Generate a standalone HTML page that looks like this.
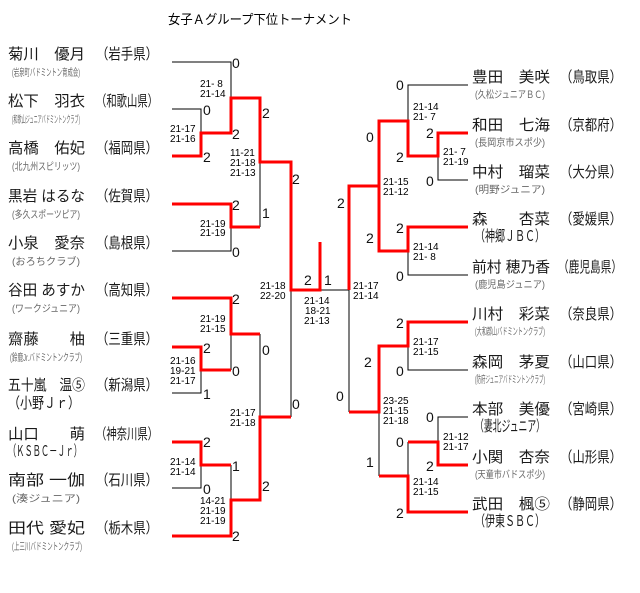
<!DOCTYPE html>
<html><head><meta charset="utf-8"><style>
html,body{margin:0;padding:0;background:#fff;}
svg{display:block;}
.n{font-family:"Liberation Sans","Noto Sans CJK JP",sans-serif;font-size:15px;fill:#1a1a1a;}
.a{font-family:"Liberation Sans","Noto Sans CJK JP",sans-serif;font-size:10px;fill:#666;}
.s{font-family:"Liberation Sans",sans-serif;font-size:10px;fill:#000;}
.d{font-family:"Liberation Sans",sans-serif;font-size:14px;fill:#111;}
.k{stroke:#000;stroke-width:1;fill:none;}
.r{stroke:#f00;stroke-width:3;fill:none;}
</style></head><body>
<svg width="640" height="593" viewBox="0 0 640 593" xmlns="http://www.w3.org/2000/svg">
<text x="168" y="24" class="n" style="font-size:13px;fill:#000" textLength="184" lengthAdjust="spacingAndGlyphs">女子Ａグループ下位トーナメント</text>

<g>
<text x="8" y="59" class="n" textLength="77" lengthAdjust="spacingAndGlyphs">菊川　優月</text><text x="96" y="59" class="n" textLength="62" lengthAdjust="spacingAndGlyphs">（岩手県）</text>
<text x="12" y="76" class="a" textLength="68" lengthAdjust="spacingAndGlyphs">(岩泉町バドミントン育成会)</text>
<text x="8" y="106" class="n" textLength="77" lengthAdjust="spacingAndGlyphs">松下　羽衣</text><text x="96" y="106" class="n" textLength="62" lengthAdjust="spacingAndGlyphs">（和歌山県）</text>
<text x="12" y="123" class="a" textLength="68" lengthAdjust="spacingAndGlyphs">(和歌山ジュニアバドミントンクラブ)</text>
<text x="8" y="153" class="n" textLength="77" lengthAdjust="spacingAndGlyphs">高橋　佑妃</text><text x="96" y="153" class="n" textLength="62" lengthAdjust="spacingAndGlyphs">（福岡県）</text>
<text x="12" y="170" class="a" textLength="68" lengthAdjust="spacingAndGlyphs">(北九州スピリッツ)</text>
<text x="8" y="201" class="n" textLength="77" lengthAdjust="spacingAndGlyphs">黒岩 はるな</text><text x="96" y="201" class="n" textLength="62" lengthAdjust="spacingAndGlyphs">（佐賀県）</text>
<text x="12" y="218" class="a" textLength="68" lengthAdjust="spacingAndGlyphs">(多久スポーツピア)</text>
<text x="8" y="248" class="n" textLength="77" lengthAdjust="spacingAndGlyphs">小泉　愛奈</text><text x="96" y="248" class="n" textLength="62" lengthAdjust="spacingAndGlyphs">（島根県）</text>
<text x="12" y="265" class="a" textLength="68" lengthAdjust="spacingAndGlyphs">(おろちクラブ)</text>
<text x="8" y="295" class="n" textLength="77" lengthAdjust="spacingAndGlyphs">谷田 あすか</text><text x="96" y="295" class="n" textLength="62" lengthAdjust="spacingAndGlyphs">（高知県）</text>
<text x="12" y="312" class="a" textLength="68" lengthAdjust="spacingAndGlyphs">(ワークジュニア)</text>
<text x="8" y="344" class="n" textLength="77" lengthAdjust="spacingAndGlyphs">齋藤　　柚</text><text x="96" y="344" class="n" textLength="62" lengthAdjust="spacingAndGlyphs">（三重県）</text>
<text x="10" y="361" class="a" textLength="72" lengthAdjust="spacingAndGlyphs">(鈴鹿Jr.バドミントンクラブ)</text>
<text x="8" y="390" class="n" textLength="77" lengthAdjust="spacingAndGlyphs">五十嵐　温⑤</text><text x="96" y="390" class="n" textLength="62" lengthAdjust="spacingAndGlyphs">（新潟県）</text>
<text x="8" y="408" class="n" textLength="72" lengthAdjust="spacingAndGlyphs">（小野Ｊｒ）</text>
<text x="8" y="439" class="n" textLength="77" lengthAdjust="spacingAndGlyphs">山口　　萌</text><text x="96" y="439" class="n" textLength="62" lengthAdjust="spacingAndGlyphs">（神奈川県）</text>
<text x="8" y="456" class="n" textLength="74" lengthAdjust="spacingAndGlyphs">（ＫＳＢＣ－Ｊｒ）</text>
<text x="8" y="485" class="n" textLength="77" lengthAdjust="spacingAndGlyphs">南部 一伽</text><text x="96" y="485" class="n" textLength="62" lengthAdjust="spacingAndGlyphs">（石川県）</text>
<text x="12" y="502" class="a" textLength="68" lengthAdjust="spacingAndGlyphs">(湊ジュニア)</text>
<text x="8" y="533" class="n" textLength="77" lengthAdjust="spacingAndGlyphs">田代 愛妃</text><text x="96" y="533" class="n" textLength="62" lengthAdjust="spacingAndGlyphs">（栃木県）</text>
<text x="12" y="550" class="a" textLength="70" lengthAdjust="spacingAndGlyphs">(上三川バドミントンクラブ)</text>
</g>

<g>
<text x="472" y="82" class="n" textLength="78" lengthAdjust="spacingAndGlyphs">豊田　美咲</text><text x="560" y="82" class="n" textLength="62" lengthAdjust="spacingAndGlyphs">（鳥取県）</text>
<text x="475" y="98" class="a" textLength="70" lengthAdjust="spacingAndGlyphs">(久松ジュニアＢＣ)</text>
<text x="472" y="130" class="n" textLength="78" lengthAdjust="spacingAndGlyphs">和田　七海</text><text x="560" y="130" class="n" textLength="62" lengthAdjust="spacingAndGlyphs">（京都府）</text>
<text x="475" y="146" class="a" textLength="70" lengthAdjust="spacingAndGlyphs">(長岡京市スポ少)</text>
<text x="472" y="177" class="n" textLength="78" lengthAdjust="spacingAndGlyphs">中村　瑠菜</text><text x="560" y="177" class="n" textLength="62" lengthAdjust="spacingAndGlyphs">（大分県）</text>
<text x="475" y="193" class="a" textLength="70" lengthAdjust="spacingAndGlyphs">(明野ジュニア)</text>
<text x="472" y="224" class="n" textLength="78" lengthAdjust="spacingAndGlyphs">森　　杏菜</text><text x="560" y="224" class="n" textLength="62" lengthAdjust="spacingAndGlyphs">（愛媛県）</text>
<text x="475" y="241" class="n" textLength="70" lengthAdjust="spacingAndGlyphs">（神郷ＪＢＣ）</text>
<text x="472" y="272" class="n" textLength="78" lengthAdjust="spacingAndGlyphs">前村 穂乃香</text><text x="558" y="272" class="n" textLength="64" lengthAdjust="spacingAndGlyphs">（鹿児島県）</text>
<text x="475" y="288" class="a" textLength="70" lengthAdjust="spacingAndGlyphs">(鹿児島ジュニア)</text>
<text x="472" y="319" class="n" textLength="78" lengthAdjust="spacingAndGlyphs">川村　彩菜</text><text x="560" y="319" class="n" textLength="62" lengthAdjust="spacingAndGlyphs">（奈良県）</text>
<text x="475" y="335" class="a" textLength="70" lengthAdjust="spacingAndGlyphs">(大和郡山バドミントンクラブ)</text>
<text x="472" y="367" class="n" textLength="78" lengthAdjust="spacingAndGlyphs">森岡　茅夏</text><text x="560" y="367" class="n" textLength="62" lengthAdjust="spacingAndGlyphs">（山口県）</text>
<text x="475" y="383" class="a" textLength="70" lengthAdjust="spacingAndGlyphs">(防府ジュニアバドミントンクラブ)</text>
<text x="472" y="414" class="n" textLength="78" lengthAdjust="spacingAndGlyphs">本部　美優</text><text x="560" y="414" class="n" textLength="62" lengthAdjust="spacingAndGlyphs">（宮崎県）</text>
<text x="475" y="431" class="n" textLength="70" lengthAdjust="spacingAndGlyphs">（妻北ジュニア）</text>
<text x="472" y="462" class="n" textLength="78" lengthAdjust="spacingAndGlyphs">小関　杏奈</text><text x="560" y="462" class="n" textLength="62" lengthAdjust="spacingAndGlyphs">（山形県）</text>
<text x="475" y="478" class="a" textLength="70" lengthAdjust="spacingAndGlyphs">(天童市バドスポ少)</text>
<text x="472" y="509" class="n" textLength="78" lengthAdjust="spacingAndGlyphs">武田　楓⑤</text><text x="560" y="509" class="n" textLength="62" lengthAdjust="spacingAndGlyphs">（静岡県）</text>
<text x="475" y="526" class="n" textLength="70" lengthAdjust="spacingAndGlyphs">（伊東ＳＢＣ）</text>
</g>

<path class="k" d="M172,62H231V98 M172,109H201V156 M201,133H231 M260,98V227 M231,204V251H172 M201,370V393H172 M231,334V370 M260,334V417 M201,465V488H172 M231,465V500 M291,289V417 M320,290H349 M349,290V412"/>
<path class="r" d="M172,156H201V133H231V98H260V162H291V290H320V242 M172,204H231V227H260 M172,298H231V334H260 M172,347H201V370H231 M172,442H201V465H231 M172,536H231V500H260V417H291"/>
<path class="k" d="M468,85H408V121 M468,180H438V156 M379,121V186 M468,275H408V251 M468,370H408V346 M379,412V476 M468,417H438V442 M408,442V476"/>
<path class="r" d="M468,133H438V156H408V121H379V186H349V290 M468,227H408V251H379V186 M468,322H408V346H379V412H349 M468,465H438V442H408 M379,476H408V512H468"/>

<g class="s">
<text x="200" y="87">21- 8</text><text x="200" y="97">21-14</text>
<text x="170" y="132">21-17</text><text x="170" y="142">21-16</text>
<text x="230" y="156">11-21</text><text x="230" y="166">21-18</text><text x="230" y="176">21-13</text>
<text x="200" y="227">21-19</text><text x="200" y="236">21-19</text>
<text x="200" y="322">21-19</text><text x="200" y="332">21-15</text>
<text x="170" y="364">21-16</text><text x="170" y="374">19-21</text><text x="170" y="384">21-17</text>
<text x="230" y="416">21-17</text><text x="230" y="426">21-18</text>
<text x="170" y="465">21-14</text><text x="170" y="475">21-14</text>
<text x="200" y="504">14-21</text><text x="200" y="514">21-19</text><text x="200" y="524">21-19</text>
<text x="260" y="289">21-18</text><text x="260" y="299">22-20</text>
<text x="304" y="304">21-14</text><text x="305" y="314">18-21</text><text x="304" y="324">21-13</text>
<text x="353" y="289">21-17</text><text x="353" y="299">21-14</text>
<text x="413" y="110">21-14</text><text x="413" y="120">21- 7</text>
<text x="443" y="155">21- 7</text><text x="443" y="165">21-19</text>
<text x="383" y="185">21-15</text><text x="383" y="195">21-12</text>
<text x="413" y="250">21-14</text><text x="413" y="260">21- 8</text>
<text x="413" y="345">21-17</text><text x="413" y="355">21-15</text>
<text x="383" y="404">23-25</text><text x="383" y="414">21-15</text><text x="383" y="424">21-18</text>
<text x="443" y="440">21-12</text><text x="443" y="450">21-17</text>
<text x="413" y="485">21-14</text><text x="413" y="495">21-15</text>
</g>
<g class="d">
<text x="232" y="68">0</text><text x="203" y="115">0</text><text x="203" y="162">2</text>
<text x="232" y="139">2</text><text x="262" y="118">2</text><text x="292" y="184">2</text>
<text x="232" y="210">2</text><text x="232" y="257">0</text><text x="262" y="218">1</text>
<text x="232" y="304">2</text><text x="203" y="353">2</text><text x="232" y="376">0</text><text x="203" y="399">1</text>
<text x="262" y="355">0</text><text x="292" y="409">0</text>
<text x="203" y="447">2</text><text x="232" y="471">1</text><text x="203" y="494">0</text><text x="262" y="491">2</text><text x="232" y="541">2</text>
<text x="304" y="285">2</text><text x="324" y="285">1</text>
<text x="336" y="401">0</text><text x="364" y="367">2</text>
<text x="396" y="90">0</text><text x="366" y="142">0</text><text x="426" y="138">2</text><text x="396" y="162">2</text><text x="426" y="186">0</text>
<text x="337" y="208">2</text><text x="396" y="233">2</text><text x="366" y="243">2</text><text x="396" y="281">0</text>
<text x="396" y="328">2</text><text x="396" y="376">0</text>
<text x="426" y="422">0</text><text x="396" y="447">0</text><text x="426" y="471">2</text><text x="366" y="467">1</text><text x="396" y="518">2</text>
</g>
</svg>
</body></html>
